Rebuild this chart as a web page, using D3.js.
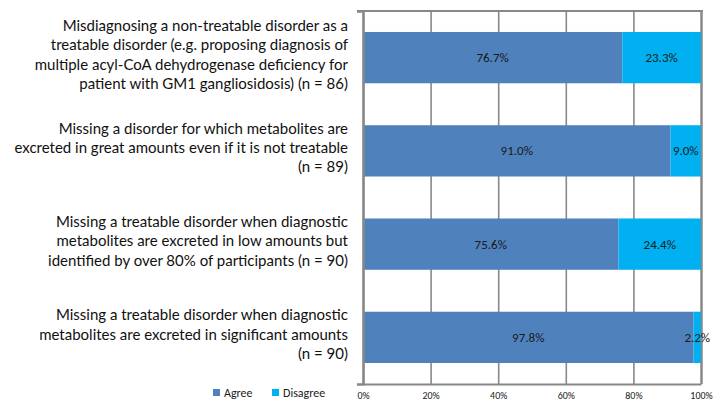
<!DOCTYPE html>
<html>
<head>
<meta charset="utf-8">
<script src="https://cdn.jsdelivr.net/npm/d3@7"></script>
<style>
  body { margin: 0; background: #fff; }
  svg { display: block; }
</style>
</head>
<body>
<script>
// data van de grafiek
var categories = ["q1", "q2", "q3", "q4"];
var labels = [
    ["Misdiagnosing a non-treatable disorder as a",
     "treatable disorder (e.g. proposing diagnosis of",
     "multiple acyl-CoA dehydrogenase deficiency for",
     "patient with GM1 gangliosidosis) (n = 86)"],
    ["Missing a disorder for which metabolites are",
     "excreted in great amounts even if it is not treatable",
     "(n = 89)"],
    ["Missing a treatable disorder when diagnostic",
     "metabolites are excreted in low amounts but",
     "identified by over 80% of participants (n = 90)"],
    ["Missing a treatable disorder when diagnostic",
     "metabolites are excreted in significant amounts",
     "(n = 90)"]
];
var agree = [76.7, 91.0, 75.6, 97.8];
var disagree = [23.3, 9.0, 24.4, 2.2];
var series = ["Agree", "Disagree"];
var tickValues = [0, 20, 40, 60, 80, 100];

var margin = { top: 11, right: 16, bottom: 19, left: 363 },
    width = 717 - margin.left - margin.right,
    height = 403 - margin.top - margin.bottom;

var x = d3.scaleLinear().domain([0, 100]).range([0, width]);
var y = d3.scaleBand().domain(categories).range([0, height]).paddingInner(0.45).paddingOuter(0.225);
var color = d3.scaleOrdinal().domain(series).range(["#4f81bd", "#00b0f0"]);

var svg = d3.select("body").append("svg")
    .attr("width", 717)
    .attr("height", 403);

var g = svg.append("g")
    .attr("transform", "translate(" + margin.left + "," + margin.top + ")");

// stapels maken
var rows = categories.map(function (c, i) {
    return { cat: c, Agree: agree[i], Disagree: disagree[i] };
});
var stack = d3.stack().keys(series)(rows);

// bovenrand
g.append("line")
    .attr("x1", -6).attr("x2", width + 2)
    .attr("y1", 0).attr("y2", 0)
    .attr("stroke", "#888").attr("stroke-width", 2);

// rasterlijnen via de x-as
g.append("g")
    .attr("class", "grid")
    .attr("transform", "translate(0," + height + ")")
    .call(d3.axisBottom(x).tickValues(tickValues).tickSize(-height).tickFormat(""))
    .call(function (s) { s.select(".domain").remove(); })
    .selectAll("line")
    .attr("stroke", "#888")
    .attr("stroke-width", function (d) { return d === 100 ? 2.5 : 1.6; });

// balken
var layer = g.append("g")
    .selectAll("g")
    .data(stack)
    .enter().append("g")
    .attr("fill", function (d) { return color(d.key); });

layer.selectAll("rect")
    .data(function (d) { return d; })
    .enter().append("rect")
    .attr("x", function (d) { return x(d[0]); })
    .attr("y", function (d) { return y(d.data.cat); })
    .attr("width", function (d) { return x(d[1]) - x(d[0]); })
    .attr("height", y.bandwidth());

// waarden in de balken
layer.selectAll("text")
    .data(function (d) { return d; })
    .enter().append("text")
    .attr("x", function (d) { return (x(d[0]) + x(d[1])) / 2; })
    .attr("y", function (d) { return y(d.data.cat) + y.bandwidth() / 2; })
    .attr("dy", "0.35em")
    .attr("text-anchor", "middle")
    .attr("font-family", "Carlito, 'Open Sans', sans-serif")
    .attr("font-size", 13)
    .attr("fill", "#1a1a1a")
    .text(function (d) { return (d[1] - d[0]).toFixed(1) + "%"; });

// linker as
g.append("g")
    .call(d3.axisLeft(y).tickSize(0).tickSizeOuter(6).tickFormat(""))
    .call(function (s) {
        s.select(".domain").attr("stroke", "#888").attr("stroke-width", 2.5);
    });

// onderste as
var xAxis = g.append("g")
    .attr("transform", "translate(0," + height + ")")
    .call(d3.axisBottom(x).tickValues(tickValues).tickSize(0).tickSizeOuter(0)
        .tickFormat(function (d) { return d + "%"; }));
xAxis.select(".domain").attr("stroke", "#888").attr("stroke-width", 2);
xAxis.selectAll("text")
    .attr("y", 8)
    .attr("dy", "0.71em")
    .attr("font-family", "Carlito, 'Open Sans', sans-serif")
    .attr("font-size", 10)
    .attr("fill", "#222");

// categorie teksten
var labelGroup = svg.append("g")
    .attr("font-family", "'Gill Sans', Lato, sans-serif")
    .attr("font-size", 15)
    .attr("text-anchor", "end")
    .attr("fill", "#111");

labels.forEach(function (lines, i) {
    var cy = margin.top + y(categories[i]) + y.bandwidth() / 2;
    var lh = 19.3;
    var start = cy - (lines.length - 1) * lh / 2 - 3;
    lines.forEach(function (line, j) {
        labelGroup.append("text")
            .attr("x", 348)
            .attr("y", start + j * lh)
            .attr("dy", "0.35em")
            .text(line);
    });
});

// legenda
var legend = svg.append("g")
    .attr("font-family", "Carlito, 'Open Sans', sans-serif")
    .attr("font-size", 12)
    .selectAll("g")
    .data(series)
    .enter().append("g")
    .attr("transform", function (d, i) { return "translate(" + (213 + i * 59) + ",393)"; });

legend.append("rect")
    .attr("y", -4)
    .attr("width", 7)
    .attr("height", 7)
    .attr("fill", color);

legend.append("text")
    .attr("x", 11)
    .attr("dy", "0.35em")
    .attr("fill", "#222")
    .text(function (d) { return d; });
</script>
</body>
</html>
